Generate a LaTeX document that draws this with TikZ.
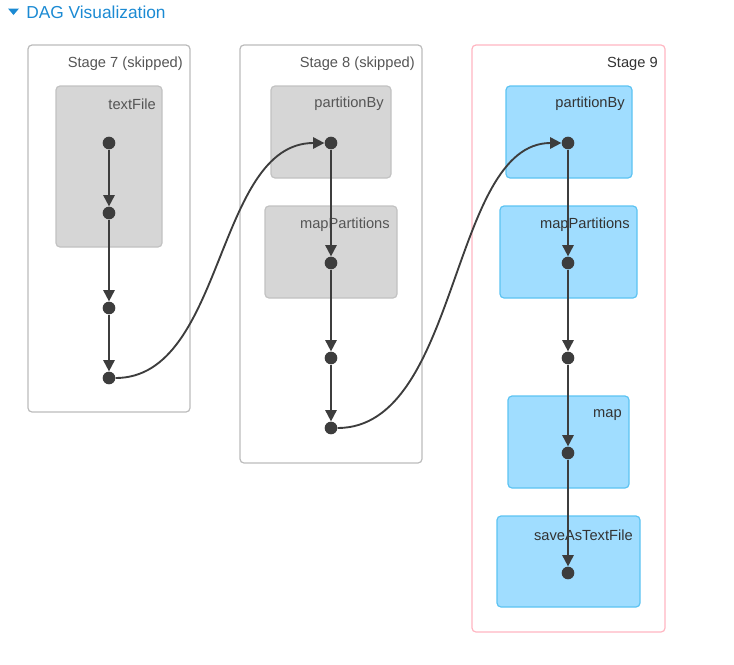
\documentclass[tikz,border=0pt]{standalone}
\usepackage{fontspec}
\setmainfont{Liberation Sans}
\usetikzlibrary{arrows.meta}
\definecolor{linkblue}{HTML}{1B8AD3}
\definecolor{stageborder}{HTML}{BBBBBB}
\definecolor{pinkborder}{HTML}{FFB6C1}
\definecolor{grayfill}{HTML}{D6D6D6}
\definecolor{grayborder}{HTML}{C2C2C2}
\definecolor{bluefill}{HTML}{A0DDFF}
\definecolor{blueborder}{HTML}{5CC3F2}
\definecolor{edgecol}{HTML}{3D3D3D}
\definecolor{skiptext}{HTML}{555555}
\definecolor{activetext}{HTML}{333333}
\tikzset{
  stagebox/.style={draw=stageborder, line width=0.9pt, rounded corners=3pt},
  activestage/.style={draw=pinkborder, line width=0.9pt, rounded corners=3pt},
  graybox/.style={draw=grayborder, fill=grayfill, line width=0.9pt, rounded corners=3pt},
  bluebox/.style={draw=blueborder, fill=bluefill, line width=0.9pt, rounded corners=3pt},
  lbl/.style={anchor=east, inner sep=0pt, font=\fontsize{11pt}{13pt}\selectfont},
  dotnode/.style={circle, fill=edgecol, inner sep=0pt, minimum size=9.5pt},
  edge/.style={draw=edgecol, line width=1.4pt, -{Triangle[length=8.5pt,width=8.5pt]}},
}
\begin{document}
\begin{tikzpicture}[x=0.75pt,y=-0.75pt]
\useasboundingbox (0,0) rectangle (734,664);
% header
\fill[linkblue] (8,8.5) -- (19,8.5) -- (13.5,15) -- cycle;
\node[anchor=west, inner sep=0pt, text=linkblue, font=\fontsize{13pt}{15pt}\selectfont] (title) at (26,12) {DAG Visualization};
% stage 7
\draw[stagebox] (28,45) rectangle (190,412);
\node[lbl, text=skiptext] (s7) at (183,64) {Stage 7 (skipped)};
\draw[graybox] (56,86) rectangle (162,247);
\node[lbl, text=skiptext] (tf) at (156,104) {textFile};
% stage 8
\draw[stagebox] (240,45) rectangle (422,463);
\node[lbl, text=skiptext] (s8) at (415,64) {Stage 8 (skipped)};
\draw[graybox] (271,86) rectangle (391,178);
\node[lbl, text=skiptext] (pb8) at (384,104) {partitionBy};
\draw[graybox] (265,206) rectangle (397,298);
\node[lbl, text=skiptext] (mp8) at (390,225) {mapPartitions};
% stage 9
\draw[activestage] (472,45) rectangle (665,632);
\node[lbl, text=activetext] (s9) at (658,64) {Stage 9};
\draw[bluebox] (506,86) rectangle (632,178);
\node[lbl, text=activetext] (pb9) at (625,104) {partitionBy};
\draw[bluebox] (500,206) rectangle (637,298);
\node[lbl, text=activetext] (mp9) at (630,225) {mapPartitions};
\draw[bluebox] (508,396) rectangle (629,488);
\node[lbl, text=activetext] (mp) at (622,415) {map};
\draw[bluebox] (497,516) rectangle (640,607);
\node[lbl, text=activetext] (sv) at (633,535) {saveAsTextFile};
% dots
\node[dotnode] (a1) at (109,143) {};
\node[dotnode] (a2) at (109,213) {};
\node[dotnode] (a3) at (109,308) {};
\node[dotnode] (a4) at (109,378) {};
\node[dotnode] (b1) at (331,143) {};
\node[dotnode] (b2) at (331,263) {};
\node[dotnode] (b3) at (331,358) {};
\node[dotnode] (b4) at (331,428) {};
\node[dotnode] (c1) at (568,143) {};
\node[dotnode] (c2) at (568,263) {};
\node[dotnode] (c3) at (568,358) {};
\node[dotnode] (c4) at (568,453) {};
\node[dotnode] (c5) at (568,573) {};
% edges
\draw[edge] (a1) -- (a2);
\draw[edge] (a2) -- (a3);
\draw[edge] (a3) -- (a4);
\draw[edge] (b1) -- (b2);
\draw[edge] (b2) -- (b3);
\draw[edge] (b3) -- (b4);
\draw[edge] (c1) -- (c2);
\draw[edge] (c2) -- (c3);
\draw[edge] (c3) -- (c4);
\draw[edge] (c4) -- (c5);
\draw[edge] (a4.east) .. controls (225,378) and (215,143) .. (b1.west);
\draw[edge] (b4.east) .. controls (460,428) and (450,143) .. (c1.west);
\end{tikzpicture}
\end{document}
